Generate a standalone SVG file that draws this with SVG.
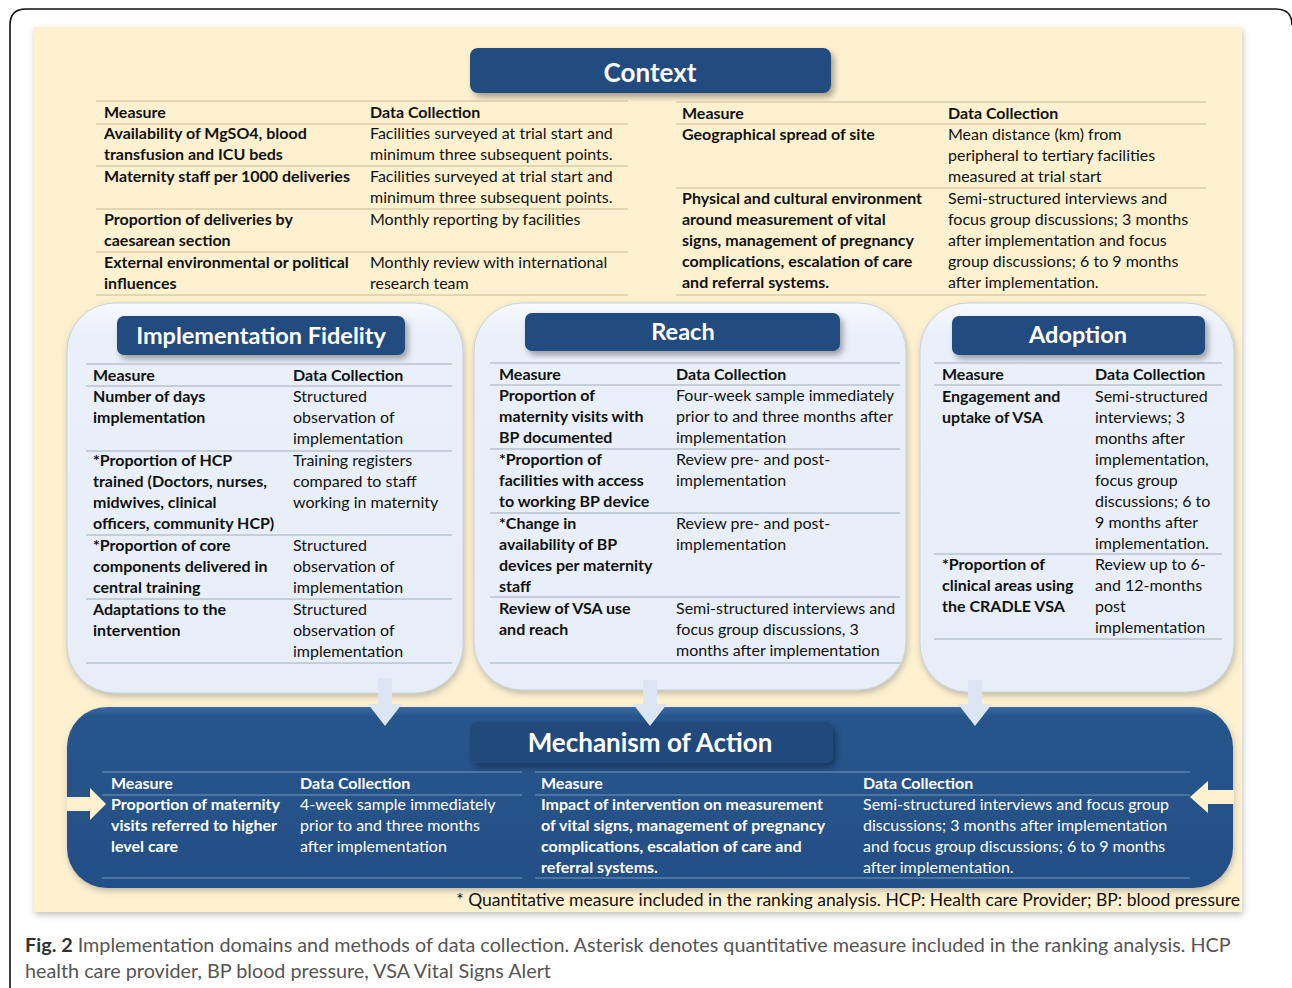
<svg xmlns="http://www.w3.org/2000/svg" width="1292" height="988" viewBox="0 0 1292 988">
<defs>
<style>
text{font-family:Lato,"Open Sans","Liberation Sans",sans-serif;}
.t{font-size:16px;fill:#111;}
.b{font-weight:bold;}
.w{fill:#fff;}
.ttl{font-weight:bold;fill:#fff;text-anchor:middle;}
.lc{stroke:#d9cca6;stroke-width:1.5;}
.lb{stroke:#b9c3ce;stroke-width:1.3;}
.lm{stroke:#5b80ad;stroke-width:1.3;}
.tb{fill:#204b80;}
.cap{font-size:19.8px;fill:#555;}
</style>
<filter id="sh" x="-10%" y="-10%" width="125%" height="130%"><feDropShadow dx="3" dy="4" stdDeviation="3" flood-color="#000" flood-opacity="0.35"/></filter>
<filter id="sh2" x="-10%" y="-10%" width="120%" height="120%"><feDropShadow dx="1" dy="3" stdDeviation="3" flood-color="#777" flood-opacity="0.45"/></filter>
<linearGradient id="gp" x1="0" y1="0" x2="0" y2="1"><stop offset="0" stop-color="#f7faff"/><stop offset="0.08" stop-color="#e9f0f9"/><stop offset="1" stop-color="#e7eef8"/></linearGradient>
<linearGradient id="gm" x1="0" y1="0" x2="0" y2="1"><stop offset="0" stop-color="#3b6aa4"/><stop offset="0.05" stop-color="#27558c"/><stop offset="1" stop-color="#244f85"/></linearGradient>
</defs>
<rect x="0" y="0" width="1292" height="988" fill="#fff"/>
<path d="M10 988 V25 Q10 9 26 9 H1276 Q1292 9 1292 25" fill="none" stroke="#111" stroke-width="1.6"/>
<rect x="34" y="27" width="1208" height="885" fill="#fdf1cf" filter="url(#sh2)"/>

<g id="context">
<rect x="470" y="48" width="361" height="45" rx="8" class="tb" filter="url(#sh)"/>
<text x="650" y="82" class="ttl" font-size="26">Context</text>
<g>
<line x1="96" y1="101" x2="628" y2="101" class="lc"/>
<line x1="96" y1="124" x2="628" y2="124" class="lc"/>
<line x1="96" y1="166" x2="628" y2="166" class="lc"/>
<line x1="96" y1="209" x2="628" y2="209" class="lc"/>
<line x1="96" y1="252" x2="628" y2="252" class="lc"/>
<line x1="96" y1="295" x2="628" y2="295" class="lc"/>
<text class="t b" x="104" y="118">Measure</text>
<text class="t b" x="370" y="118">Data Collection</text>
<text class="t b" x="104"><tspan y="139">Availability of MgSO4, blood</tspan><tspan x="104" y="160">transfusion and ICU beds</tspan></text>
<text class="t" x="370"><tspan y="139">Facilities surveyed at trial start and</tspan><tspan x="370" y="160">minimum three subsequent points.</tspan></text>
<text class="t b" x="104" y="182">Maternity staff per 1000 deliveries</text>
<text class="t" x="370"><tspan y="182">Facilities surveyed at trial start and</tspan><tspan x="370" y="203">minimum three subsequent points.</tspan></text>
<text class="t b" x="104"><tspan y="225">Proportion of deliveries by</tspan><tspan x="104" y="246">caesarean section</tspan></text>
<text class="t" x="370" y="225">Monthly reporting by facilities</text>
<text class="t b" x="104"><tspan y="268">External environmental or political</tspan><tspan x="104" y="289">influences</tspan></text>
<text class="t" x="370"><tspan y="268">Monthly review with international</tspan><tspan x="370" y="289">research team</tspan></text>
</g>
<g>
<line x1="676" y1="102" x2="1206" y2="102" class="lc"/>
<line x1="676" y1="124" x2="1206" y2="124" class="lc"/>
<line x1="676" y1="188" x2="1206" y2="188" class="lc"/>
<line x1="676" y1="295" x2="1206" y2="295" class="lc"/>
<text class="t b" x="682" y="119">Measure</text>
<text class="t b" x="948" y="119">Data Collection</text>
<text class="t b" x="682" y="140">Geographical spread of site</text>
<text class="t" x="948"><tspan y="140">Mean distance (km) from</tspan><tspan x="948" y="161">peripheral to tertiary facilities</tspan><tspan x="948" y="182">measured at trial start</tspan></text>
<text class="t b" x="682"><tspan y="204">Physical and cultural environment</tspan><tspan x="682" y="225">around measurement of vital</tspan><tspan x="682" y="246">signs, management of pregnancy</tspan><tspan x="682" y="267">complications, escalation of care</tspan><tspan x="682" y="288">and referral systems.</tspan></text>
<text class="t" x="948"><tspan y="204">Semi-structured interviews and</tspan><tspan x="948" y="225">focus group discussions; 3 months</tspan><tspan x="948" y="246">after implementation and focus</tspan><tspan x="948" y="267">group discussions; 6 to 9 months</tspan><tspan x="948" y="288">after implementation.</tspan></text>
</g>
</g>

<g id="implementation-fidelity">
<rect x="67" y="303" width="396" height="390" rx="48" fill="url(#gp)" stroke="#c9d2dc" stroke-width="1" filter="url(#sh2)"/>
<rect x="117" y="316" width="288" height="39" rx="7" class="tb" filter="url(#sh)"/>
<text x="261" y="344" class="ttl" font-size="23.5">Implementation Fidelity</text>
<line x1="86" y1="364" x2="452" y2="364" class="lb"/>
<line x1="86" y1="386" x2="452" y2="386" class="lb"/>
<line x1="86" y1="451" x2="452" y2="451" class="lb"/>
<line x1="86" y1="535" x2="452" y2="535" class="lb"/>
<line x1="86" y1="599" x2="452" y2="599" class="lb"/>
<line x1="86" y1="663" x2="452" y2="663" class="lb"/>
<text class="t b" x="93" y="381">Measure</text>
<text class="t b" x="293" y="381">Data Collection</text>
<text class="t b" x="93"><tspan y="402">Number of days</tspan><tspan x="93" y="423">implementation</tspan></text>
<text class="t" x="293"><tspan y="402">Structured</tspan><tspan x="293" y="423">observation of</tspan><tspan x="293" y="444">implementation</tspan></text>
<text class="t b" x="93"><tspan y="466">*Proportion of HCP</tspan><tspan x="93" y="487">trained (Doctors, nurses,</tspan><tspan x="93" y="508">midwives, clinical</tspan><tspan x="93" y="529">officers, community HCP)</tspan></text>
<text class="t" x="293"><tspan y="466">Training registers</tspan><tspan x="293" y="487">compared to staff</tspan><tspan x="293" y="508">working in maternity</tspan></text>
<text class="t b" x="93"><tspan y="551">*Proportion of core</tspan><tspan x="93" y="572">components delivered in</tspan><tspan x="93" y="593">central training</tspan></text>
<text class="t" x="293"><tspan y="551">Structured</tspan><tspan x="293" y="572">observation of</tspan><tspan x="293" y="593">implementation</tspan></text>
<text class="t b" x="93"><tspan y="615">Adaptations to the</tspan><tspan x="93" y="636">intervention</tspan></text>
<text class="t" x="293"><tspan y="615">Structured</tspan><tspan x="293" y="636">observation of</tspan><tspan x="293" y="657">implementation</tspan></text>
</g>

<g id="reach">
<rect x="474" y="303" width="432" height="387" rx="48" fill="url(#gp)" stroke="#c9d2dc" stroke-width="1" filter="url(#sh2)"/>
<rect x="525" y="313" width="315" height="38" rx="7" class="tb" filter="url(#sh)"/>
<text x="683" y="340" class="ttl" font-size="23.5">Reach</text>
<line x1="490" y1="363" x2="900" y2="363" class="lb"/>
<line x1="490" y1="385" x2="900" y2="385" class="lb"/>
<line x1="490" y1="449" x2="900" y2="449" class="lb"/>
<line x1="490" y1="513" x2="900" y2="513" class="lb"/>
<line x1="490" y1="597" x2="900" y2="597" class="lb"/>
<line x1="490" y1="663" x2="900" y2="663" class="lb"/>
<text class="t b" x="499" y="380">Measure</text>
<text class="t b" x="676" y="380">Data Collection</text>
<text class="t b" x="499"><tspan y="401">Proportion of</tspan><tspan x="499" y="422">maternity visits with</tspan><tspan x="499" y="443">BP documented</tspan></text>
<text class="t" x="676"><tspan y="401">Four-week sample immediately</tspan><tspan x="676" y="422">prior to and three months after</tspan><tspan x="676" y="443">implementation</tspan></text>
<text class="t b" x="499"><tspan y="465">*Proportion of</tspan><tspan x="499" y="486">facilities with access</tspan><tspan x="499" y="507">to working BP device</tspan></text>
<text class="t" x="676"><tspan y="465">Review pre- and post-</tspan><tspan x="676" y="486">implementation</tspan></text>
<text class="t b" x="499"><tspan y="529">*Change in</tspan><tspan x="499" y="550">availability of BP</tspan><tspan x="499" y="571">devices per maternity</tspan><tspan x="499" y="592">staff</tspan></text>
<text class="t" x="676"><tspan y="529">Review pre- and post-</tspan><tspan x="676" y="550">implementation</tspan></text>
<text class="t b" x="499"><tspan y="614">Review of VSA use</tspan><tspan x="499" y="635">and reach</tspan></text>
<text class="t" x="676"><tspan y="614">Semi-structured interviews and</tspan><tspan x="676" y="635">focus group discussions, 3</tspan><tspan x="676" y="656">months after implementation</tspan></text>
</g>

<g id="adoption">
<rect x="920" y="303" width="314" height="389" rx="48" fill="url(#gp)" stroke="#c9d2dc" stroke-width="1" filter="url(#sh2)"/>
<rect x="952" y="316" width="253" height="39" rx="7" class="tb" filter="url(#sh)"/>
<text x="1078" y="343" class="ttl" font-size="23.5">Adoption</text>
<line x1="934" y1="363" x2="1222" y2="363" class="lb"/>
<line x1="934" y1="385" x2="1222" y2="385" class="lb"/>
<line x1="934" y1="554" x2="1222" y2="554" class="lb"/>
<line x1="934" y1="639" x2="1222" y2="639" class="lb"/>
<text class="t b" x="942" y="380">Measure</text>
<text class="t b" x="1095" y="380">Data Collection</text>
<text class="t b" x="942"><tspan y="402">Engagement and</tspan><tspan x="942" y="423">uptake of VSA</tspan></text>
<text class="t" x="1095"><tspan y="402">Semi-structured</tspan><tspan x="1095" y="423">interviews; 3</tspan><tspan x="1095" y="444">months after</tspan><tspan x="1095" y="465">implementation,</tspan><tspan x="1095" y="486">focus group</tspan><tspan x="1095" y="507">discussions; 6 to</tspan><tspan x="1095" y="528">9 months after</tspan><tspan x="1095" y="549">implementation.</tspan></text>
<text class="t b" x="942"><tspan y="570">*Proportion of</tspan><tspan x="942" y="591">clinical areas using</tspan><tspan x="942" y="612">the CRADLE VSA</tspan></text>
<text class="t" x="1095"><tspan y="570">Review up to 6-</tspan><tspan x="1095" y="591">and 12-months</tspan><tspan x="1095" y="612">post</tspan><tspan x="1095" y="633">implementation</tspan></text>
</g>

<g id="mechanism-of-action">
<rect x="67" y="707" width="1166" height="181" rx="40" fill="url(#gm)" filter="url(#sh2)"/>
<rect x="470" y="722" width="363" height="41" rx="7" fill="#224a7c" filter="url(#sh)"/>
<text x="650" y="752" class="ttl" font-size="26">Mechanism of Action</text>
<line x1="102" y1="772" x2="522" y2="772" class="lm"/>
<line x1="102" y1="795" x2="522" y2="795" class="lm"/>
<line x1="102" y1="878" x2="522" y2="878" class="lm"/>
<line x1="535" y1="772" x2="1190" y2="772" class="lm"/>
<line x1="535" y1="795" x2="1190" y2="795" class="lm"/>
<line x1="535" y1="878" x2="1190" y2="878" class="lm"/>
<text class="t b w" x="111" y="789">Measure</text>
<text class="t b w" x="300" y="789">Data Collection</text>
<text class="t b w" x="111"><tspan y="810">Proportion of maternity</tspan><tspan x="111" y="831">visits referred to higher</tspan><tspan x="111" y="852">level care</tspan></text>
<text class="t w" x="300"><tspan y="810">4-week sample immediately</tspan><tspan x="300" y="831">prior to and three months</tspan><tspan x="300" y="852">after implementation</tspan></text>
<text class="t b w" x="541" y="789">Measure</text>
<text class="t b w" x="863" y="789">Data Collection</text>
<text class="t b w" x="541"><tspan y="810">Impact of intervention on measurement</tspan><tspan x="541" y="831">of vital signs, management of pregnancy</tspan><tspan x="541" y="852">complications, escalation of care and</tspan><tspan x="541" y="873">referral systems.</tspan></text>
<text class="t w" x="863"><tspan y="810">Semi-structured interviews and focus group</tspan><tspan x="863" y="831">discussions; 3 months after implementation</tspan><tspan x="863" y="852">and focus group discussions; 6 to 9 months</tspan><tspan x="863" y="873">after implementation.</tspan></text>
</g>

<g id="connectors">
<g fill="#dbe6f2">
<path d="M378 678 H392 V704 H402 L385 726 L368 704 H378 Z"/>
<path d="M643 680 H657 V704 H667 L650 726 L633 704 H643 Z"/>
<path d="M968 680 H982 V704 H992 L975 726 L958 704 H968 Z"/>
</g>
<g fill="#fdf1cf">
<path d="M67 797 H90 V788 L106 804 L90 820 V811 H67 Z"/>
<path d="M1234 790 H1208 V781 L1190 797 L1208 813 V804 H1234 Z"/>
</g>
</g>

<text x="1240" y="906" text-anchor="end" font-size="17.5" fill="#111">* Quantitative measure included in the ranking analysis. HCP: Health care Provider; BP: blood pressure</text>
<text class="cap" x="25" y="952"><tspan font-weight="bold" fill="#333">Fig. 2</tspan> Implementation domains and methods of data collection. Asterisk denotes quantitative measure included in the ranking analysis. HCP</text>
<text class="cap" x="25" y="978">health care provider, BP blood pressure, VSA Vital Signs Alert</text>
</svg>
